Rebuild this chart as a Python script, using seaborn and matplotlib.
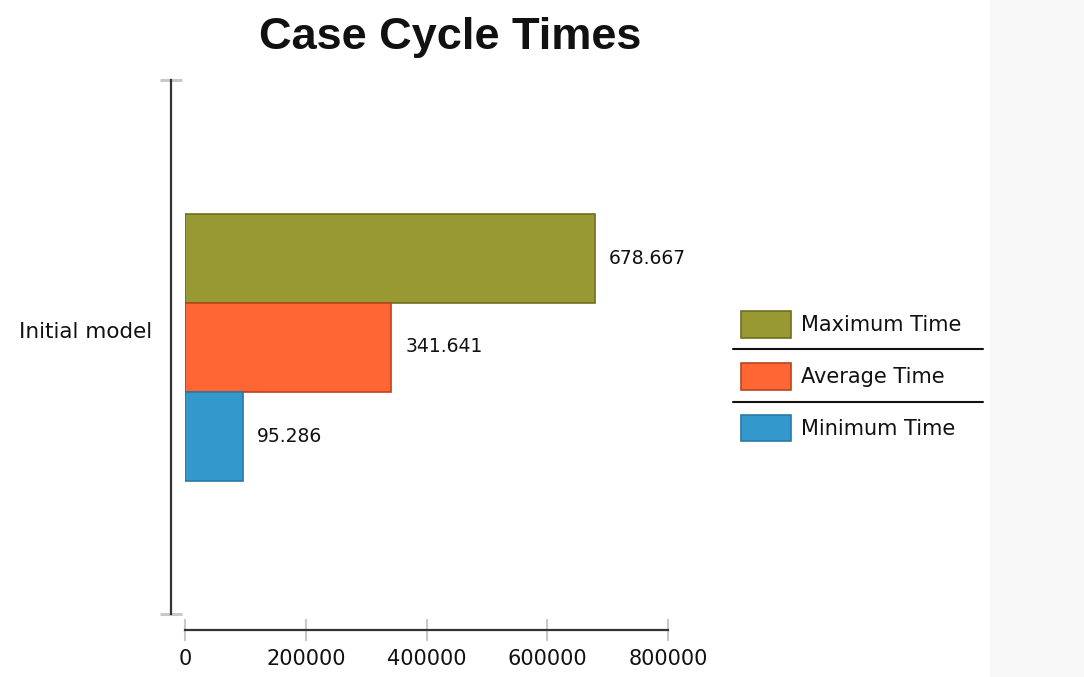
import matplotlib
matplotlib.use('Agg')
import matplotlib.pyplot as plt
import seaborn as sns
import pandas as pd
from matplotlib.lines import Line2D
from matplotlib.patches import Rectangle
from matplotlib.transforms import ScaledTranslation

# Chart data
categories = ['Initial model']
series = ['Maximum Time', 'Average Time', 'Minimum Time']
values = [678667, 341641, 95286]
x_ticks = [0, 200000, 400000, 600000, 800000]

colors = ['#999933', '#FF6633', '#3399CC']
edges = ['#6e6e22', '#b8461c', '#2a78a8']

df = pd.DataFrame({
    'model': categories * len(series),
    'series': series,
    'value': values,
})

sns.set_style('white')
plt.rcParams['font.family'] = ['DejaVu Sans']

fig = plt.figure(figsize=(10.84, 6.77), dpi=100)
# light strip on the right edge
fig.patches.append(Rectangle((990 / 1084, 0), 94 / 1084, 1, transform=fig.transFigure,
                             color='#f8f8f8', zorder=-1))

ax = fig.add_axes([185 / 1084, 1 - 614 / 677, 483 / 1084, 534 / 677])
sns.barplot(data=df, y='model', x='value', hue='series', hue_order=series,
            orient='h', width=0.5, palette=colors, legend=False, ax=ax,
            saturation=1)

for cont, ec in zip(ax.containers, edges):
    for p in cont.patches:
        p.set_edgecolor(ec)
        p.set_linewidth(1.2)

for cont, v in zip(ax.containers, values):
    ax.bar_label(cont, labels=[f'{v:,}'.replace(',', '.')], padding=10,
                 fontsize=13.5, color='#111111')

ax.set_xlim(0, 800000)
ax.set_ylim(0.5, -0.5)
ax.set_xlabel('')
ax.set_ylabel('')

# spines pulled away from the plot area (done before tick styling,
# set_position resets the ticks)
for s in ['top', 'right']:
    ax.spines[s].set_visible(False)
ax.spines['left'].set_position(('outward', 10))
ax.spines['bottom'].set_position(('outward', 11.5))
for s in ['left', 'bottom']:
    ax.spines[s].set_color('#333333')
    ax.spines[s].set_linewidth(1.6)

ax.set_xticks(x_ticks)
ax.set_xticklabels([str(t) for t in x_ticks])
ax.set_yticks([0])
ax.set_yticklabels(categories)
ax.set_yticks([-0.5, 0.5], minor=True)

ax.tick_params(axis='x', bottom=True, direction='inout', length=16, width=1.5,
               color='#c8c8c8', pad=6, labelsize=15, labelcolor='#111111')
ax.tick_params(axis='y', left=True, length=0, pad=14, labelsize=15.5, labelcolor='#111111')
ax.tick_params(axis='y', which='minor', left=True, direction='inout', length=16, width=2.2,
               color='#c8c8c8')
for lab in ax.get_yticklabels():
    lab.set_transform(lab.get_transform() + ScaledTranslation(0, 0.17, fig.dpi_scale_trans))

# legend on the right with separator lines
handles = [cont.patches[0] for cont in ax.containers]
fig.legend(handles, series, loc='upper left',
           bbox_to_anchor=(741 / 1084, 1 - 311 / 677), frameon=False,
           fontsize=15, handlelength=2.4, handleheight=1.6, labelspacing=1.2,
           handletextpad=0.48, borderpad=0, borderaxespad=0, labelcolor='#111111')
for ypx in [349, 402]:
    fig.add_artist(Line2D([733 / 1084, 983 / 1084], [1 - ypx / 677] * 2,
                          transform=fig.transFigure, color='#111111', lw=1.5))

fig.text(450 / 1084, 1 - 37 / 677, 'Case Cycle Times', ha='center', va='center',
         fontsize=32.5, fontweight='bold', family='Liberation Sans', color='#111111')

fig.savefig('out.png', dpi=100)
